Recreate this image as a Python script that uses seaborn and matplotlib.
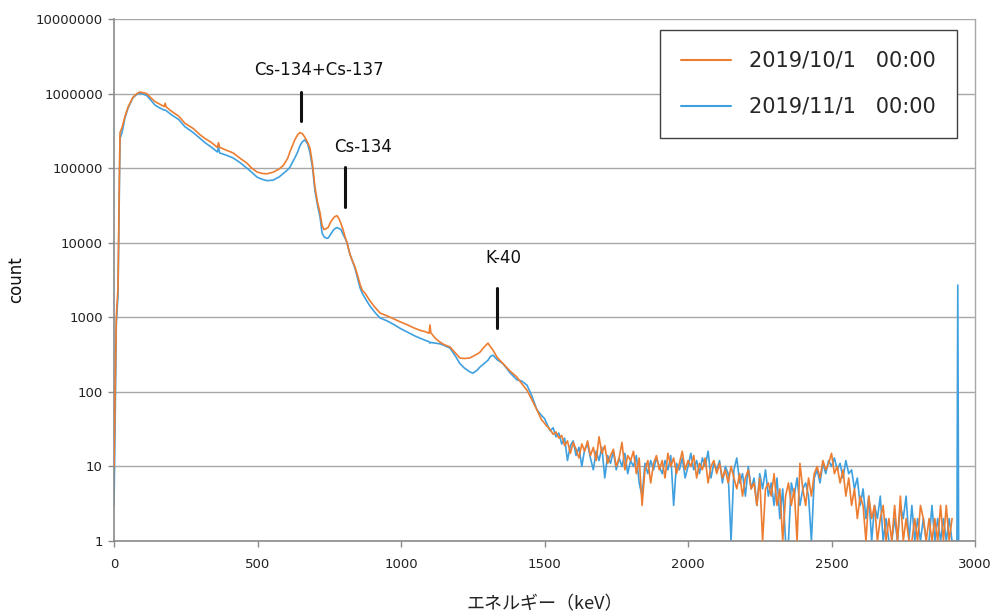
import numpy as np
import pandas as pd
import matplotlib
matplotlib.use("Agg")
import matplotlib.pyplot as plt
import seaborn as sns
from matplotlib.ticker import FixedLocator, NullLocator, FixedFormatter

# ---------------- data ----------------
series_names = ["2019/10/1   00:00", "2019/11/1   00:00"]
series_colors = ["#ED7D31", "#3FA0E0"]

energy_low = [0, 4, 8, 14, 18, 21, 28, 38, 49, 66, 80, 90, 100, 114, 128, 143, 160,
              175, 178, 182, 200, 225, 247, 276, 300, 317, 340, 360, 364, 368, 390,
              415, 440, 463, 480, 498, 515, 533, 554, 575, 590, 605, 613, 630, 640,
              648, 656, 665, 675, 683, 692, 700, 709, 718, 725, 732, 740, 746, 755,
              763, 770, 777, 784, 791, 798, 805, 812, 822, 830, 840, 850, 857, 865,
              875, 890, 910, 927, 950, 975, 997, 1020, 1045, 1066, 1085, 1098, 1101,
              1104, 1120, 1136, 1150, 1171, 1190, 1205, 1220, 1240, 1251, 1265, 1275,
              1290, 1303, 1312, 1321, 1335, 1355, 1380, 1404, 1420, 1439, 1455, 1474,
              1490]
orange_low = [10, 100, 1000, 2500, 50000, 300000, 350000, 490000, 660000, 890000,
              1000000, 1050000, 1030000, 1000000, 880000, 780000, 720000, 670000,
              740000, 660000, 580000, 500000, 400000, 340000, 280000, 250000, 220000,
              190000, 220000, 190000, 175000, 160000, 135000, 117000, 100000, 89000,
              85000, 84000, 88000, 97000, 109000, 135000, 165000, 240000, 280000,
              300000, 290000, 260000, 220000, 185000, 110000, 56000, 35000, 25000,
              17000, 15000, 15500, 16000, 19000, 21000, 22500, 23000, 21000, 18000,
              15000, 12000, 10000, 7000, 5800, 4700, 3500, 2800, 2300, 2100, 1700,
              1350, 1140, 1050, 950, 870, 800, 720, 670, 640, 610, 790, 620, 520, 465,
              430, 400, 330, 285, 280, 285, 300, 320, 340, 400, 450, 400, 360, 290,
              240, 190, 158, 130, 105, 80, 57, 42]
blue_low = [3, 40, 800, 2000, 30000, 250000, 300000, 470000, 640000, 880000, 980000,
            1010000, 990000, 940000, 820000, 700000, 640000, 600000, 600000, 590000,
            520000, 450000, 360000, 300000, 250000, 220000, 190000, 165000, 190000,
            160000, 150000, 137000, 118000, 100000, 88000, 76000, 71000, 68000, 69000,
            76000, 85000, 95000, 103000, 137000, 165000, 200000, 225000, 240000,
            210000, 160000, 100000, 50000, 32000, 22000, 13500, 12000, 11500, 11500,
            13000, 14500, 15500, 16000, 15500, 15000, 13000, 11500, 10000, 7000, 5800,
            4500, 3200, 2500, 2100, 1800, 1450, 1150, 980, 900, 800, 710, 640, 570,
            525, 490, 470, 450, 460, 450, 440, 420, 385, 300, 240, 210, 185, 178, 195,
            215, 240, 265, 300, 310, 270, 240, 180, 145, 140, 123, 90, 57, 48]

energy_high_orange = np.arange(1500, 2921, 10)
orange_high = [38, 34, 31, 27, 29, 24, 26, 19, 22, 15,
               21, 17, 13, 20, 16, 22, 14, 18, 12, 25,
               15, 19, 11, 14, 17, 10, 13, 21, 9, 14,
               12, 16, 8, 13, 3, 9, 12, 6, 11, 14,
               9, 12, 7, 15, 10, 13, 8, 11, 16, 9,
               12, 10, 14, 7, 11, 9, 13, 6, 10, 12,
               8, 11, 7, 9, 6, 10, 7, 5, 8, 4,
               7, 9, 5, 6, 3, 7, 1, 5, 6, 4,
               8, 3, 5, 1, 4, 6, 3, 5, 1, 11,
               5, 3, 7, 4, 8, 10, 7, 12, 9, 11,
               15, 8, 10, 6, 9, 4, 7, 3, 5, 2,
               4, 3, 1, 4, 2, 3, 1, 2, 3, 1,
               2, 1, 3, 1, 4, 1, 2, 1, 1, 2,
               1, 3, 2, 1, 2, 1, 2, 1, 3, 1,
               3, 1, 2]

energy_high_blue = np.arange(1500, 2931, 10)
blue_high = [44, 36, 30, 33, 25, 28, 20, 24, 12, 19,
             22, 14, 18, 10, 17, 20, 13, 9, 16, 12,
             18, 7, 14, 11, 16, 9, 13, 10, 15, 8,
             12, 10, 14, 6, 4, 11, 8, 12, 9, 13,
             10, 8, 12, 9, 14, 3, 11, 9, 13, 7,
             10, 15, 9, 12, 8, 13, 10, 16, 7, 11,
             9, 12, 6, 10, 8, 1, 9, 13, 6, 8,
             4, 10, 5, 7, 3, 8, 5, 9, 4, 6,
             3, 7, 2, 5, 1, 1, 6, 4, 7, 3,
             5, 6, 4, 1, 7, 9, 6, 11, 8, 12,
             10, 13, 9, 11, 7, 12, 8, 9, 5, 7,
             3, 5, 2, 4, 1, 3, 2, 4, 1, 2,
             1, 1, 2, 1, 3, 2, 4, 1, 3, 1,
             2, 1, 2, 1, 1, 3, 1, 2, 1, 2,
             1, 2, 1, 1]

spike_energy_blue = [2937, 2940, 2943]
spike_blue = [1, 2700, 1]

x_ticks = [0, 500, 1000, 1500, 2000, 2500, 3000]
y_ticks = [1, 10, 100, 1000, 10000, 100000, 1000000, 10000000]
y_tick_labels = ["1", "10", "100", "1000", "10000", "100000", "1000000", "10000000"]

peak_labels = ["Cs-134+Cs-137", "Cs-134", "K-40"]
peak_energy = [652, 805, 1334]
peak_mark_top = [1.05e6, 1.03e5, 2.5e3]
peak_mark_bottom = [4.3e5, 3.0e4, 7.2e2]
peak_text_x = [714, 868, 1355]
peak_text_y = [2.05e6, 1.9e5, 6.2e3]

# ---------------- frame ----------------
orange_e = list(energy_low) + list(energy_high_orange)
orange_v = list(orange_low) + list(orange_high)
blue_e = list(energy_low) + list(energy_high_blue) + spike_energy_blue
blue_v = list(blue_low) + list(blue_high) + spike_blue

df = pd.DataFrame({
    "energy": orange_e + blue_e,
    "count": orange_v + blue_v,
    "series": [series_names[0]] * len(orange_e) + [series_names[1]] * len(blue_e),
})

sns.set_theme(style="white")
plt.rcParams["font.family"] = ["DejaVu Sans", "Noto Sans CJK JP"]

fig = plt.figure(figsize=(9.94, 6.15), dpi=100)
ax = fig.add_axes([114 / 994, 1 - 541 / 615, 861 / 994, 522 / 615])

sns.lineplot(data=df, x="energy", y="count", hue="series",
             hue_order=series_names, palette=dict(zip(series_names, series_colors)),
             estimator=None, sort=True, linewidth=1.2, ax=ax)

lines = ax.get_lines()
lines[0].set_zorder(3)
lines[1].set_zorder(2.5)

ax.set_yscale("log")
ax.set_xlim(0, 3000)
ax.set_ylim(1, 1e7)
ax.xaxis.set_major_locator(FixedLocator(x_ticks))
ax.yaxis.set_major_locator(FixedLocator(y_ticks))
ax.yaxis.set_major_formatter(FixedFormatter(y_tick_labels))
ax.yaxis.set_minor_locator(NullLocator())
ax.xaxis.set_minor_locator(NullLocator())

ax.grid(True, axis="y", color="#a8a8a8", linewidth=1.0)
ax.grid(False, axis="x")
ax.set_axisbelow(True)
for side in ["left", "bottom"]:
    ax.spines[side].set_color("#8a8a8a")
    ax.spines[side].set_linewidth(1.2)
ax.spines["right"].set_color("#a8a8a8")
ax.spines["right"].set_linewidth(1.0)
ax.spines["top"].set_visible(False)

ax.tick_params(axis="both", which="major", direction="out", length=4, width=1,
               color="#8a8a8a", labelsize=9.5, labelcolor="#222222")
ax.tick_params(axis="x", pad=8, bottom=True)
ax.tick_params(axis="y", pad=4, left=True)

ax.set_ylabel("count", fontsize=12, color="#111111", labelpad=8)
ax.set_xlabel("エネルギー（keV）", fontsize=13, color="#222222", labelpad=18,
              family=["Noto Sans CJK JP", "DejaVu Sans"])

for lab, ex, yt, yb, tx, ty in zip(peak_labels, peak_energy, peak_mark_top,
                                   peak_mark_bottom, peak_text_x, peak_text_y):
    ax.plot([ex, ex], [yb, yt], color="#111111", linewidth=2.2, zorder=4)
    ax.text(tx, ty, lab, ha="center", va="center", fontsize=12, color="#111111")

handles, labels = ax.get_legend_handles_labels()
leg = ax.legend(handles, labels, loc="upper right", bbox_to_anchor=(0.979, 0.979),
                borderaxespad=0, fontsize=15, frameon=True, fancybox=False,
                edgecolor="#404040", framealpha=1, handlelength=2.4,
                handletextpad=0.9, labelspacing=1.25, borderpad=1.0)
leg.get_frame().set_linewidth(1.0)
for h in leg.get_lines():
    h.set_linewidth(1.5)

fig.savefig("out.png", dpi=100)
